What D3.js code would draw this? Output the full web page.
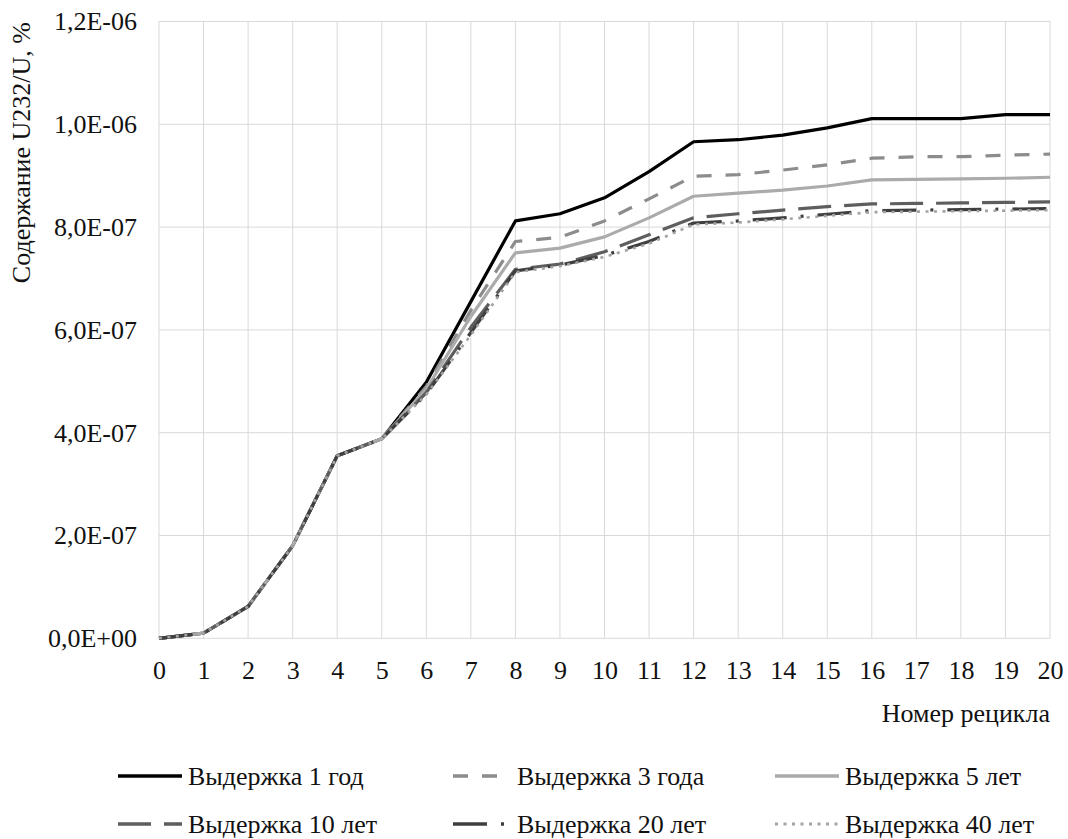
<!DOCTYPE html>
<html>
<head>
<meta charset="utf-8">
<script src="https://cdn.jsdelivr.net/npm/d3@7"></script>
</head>
<body style="margin:0; background:#fff">
<div id="chart"></div>
<script>
// data
const cycles = [0, 1, 2, 3, 4, 5, 6, 7, 8, 9, 10, 11, 12, 13, 14, 15, 16, 17, 18, 19, 20];

const y1 = [0, 1.0e-8, 6.2e-8, 1.8e-7, 3.55e-7, 3.88e-7, 4.98e-7, 6.55e-7, 8.12e-7, 8.26e-7, 8.57e-7,
  9.08e-7, 9.66e-7, 9.70e-7, 9.79e-7, 9.93e-7, 1.011e-6, 1.011e-6, 1.011e-6, 1.019e-6, 1.019e-6];
const y3 = [0, 1.0e-8, 6.2e-8, 1.8e-7, 3.55e-7, 3.88e-7, 4.90e-7, 6.38e-7, 7.72e-7, 7.80e-7, 8.12e-7,
  8.55e-7, 8.99e-7, 9.02e-7, 9.11e-7, 9.21e-7, 9.34e-7, 9.37e-7, 9.37e-7, 9.40e-7, 9.42e-7];
const y5 = [0, 1.0e-8, 6.2e-8, 1.8e-7, 3.55e-7, 3.88e-7, 4.85e-7, 6.26e-7, 7.50e-7, 7.59e-7, 7.81e-7,
  8.18e-7, 8.60e-7, 8.66e-7, 8.72e-7, 8.80e-7, 8.92e-7, 8.93e-7, 8.94e-7, 8.95e-7, 8.97e-7];
const y10 = [0, 1.0e-8, 6.2e-8, 1.8e-7, 3.55e-7, 3.88e-7, 4.78e-7, 6.05e-7, 7.18e-7, 7.28e-7, 7.52e-7,
  7.85e-7, 8.18e-7, 8.26e-7, 8.33e-7, 8.40e-7, 8.45e-7, 8.46e-7, 8.47e-7, 8.48e-7, 8.49e-7];
const y20 = [0, 1.0e-8, 6.2e-8, 1.8e-7, 3.55e-7, 3.88e-7, 4.75e-7, 5.95e-7, 7.15e-7, 7.26e-7, 7.45e-7,
  7.72e-7, 8.08e-7, 8.12e-7, 8.18e-7, 8.25e-7, 8.32e-7, 8.33e-7, 8.34e-7, 8.35e-7, 8.36e-7];
const y40 = [0, 1.0e-8, 6.2e-8, 1.8e-7, 3.55e-7, 3.88e-7, 4.74e-7, 5.90e-7, 7.12e-7, 7.24e-7, 7.42e-7,
  7.68e-7, 8.05e-7, 8.09e-7, 8.15e-7, 8.22e-7, 8.29e-7, 8.30e-7, 8.31e-7, 8.32e-7, 8.33e-7];

const seriesNames = ["Выдержка 1 год", "Выдержка 3 года", "Выдержка 5 лет",
  "Выдержка 10 лет", "Выдержка 20 лет", "Выдержка 40 лет"];

const yTicks = [0, 2e-7, 4e-7, 6e-7, 8e-7, 1e-6, 1.2e-6];
const yTickLabels = ["0,0E+00", "2,0E-07", "4,0E-07", "6,0E-07", "8,0E-07", "1,0E-06", "1,2E-06"];

const yTitle = "Содержание U232/U, %";
const xTitle = "Номер рецикла";

// styles for each series
const styles = [
  {color: "#000000", width: 3.2, dash: null},
  {color: "#8c8c8c", width: 3.2, dash: "15,14"},
  {color: "#ababab", width: 3.2, dash: null},
  {color: "#5e5e5e", width: 3.2, dash: "33,13"},
  {color: "#3f3f3f", width: 3.2, dash: "34,14,3,14"},
  {color: "#a3a3a3", width: 2.6, dash: "3,5.5"}
];

const allValues = [y1, y3, y5, y10, y20, y40];

// initialization
const W = 1068, H = 839;
const margin = ({top: 21.5, right: 18, bottom: 200.7, left: 159});
const width = W - margin.left - margin.right, height = H - margin.top - margin.bottom;
const FONT = "'Liberation Serif'";

const svg = d3.select("#chart")
  .append("svg")
  .attr("width", W)
  .attr("height", H);

const g = svg.append("g")
  .attr("transform", `translate(${margin.left}, ${margin.top})`);

const xScale = d3.scaleLinear()
  .domain([0, 20])
  .range([0, width]);

const yScale = d3.scaleLinear()
  .domain([0, 1.2e-6])
  .range([height, 0]);

// grid
g.append("g")
  .selectAll("line.hgrid")
  .data(yTicks)
  .join("line")
  .attr("class", "hgrid")
  .attr("x1", 0).attr("x2", width)
  .attr("y1", d => yScale(d)).attr("y2", d => yScale(d))
  .attr("stroke", "#d9d9d9")
  .attr("stroke-width", 1);

g.append("g")
  .selectAll("line.vgrid")
  .data(cycles)
  .join("line")
  .attr("class", "vgrid")
  .attr("y1", 0).attr("y2", height)
  .attr("x1", d => xScale(d)).attr("x2", d => xScale(d))
  .attr("stroke", "#d9d9d9")
  .attr("stroke-width", 1);

// axes
const xAxis = d3.axisBottom(xScale)
  .tickValues(cycles)
  .tickSize(0)
  .tickPadding(22)
  .tickFormat(d3.format("d"));

const yAxis = d3.axisLeft(yScale)
  .tickValues(yTicks)
  .tickSize(0)
  .tickPadding(22)
  .tickFormat((d, i) => yTickLabels[i]);

g.append("g")
  .attr("class", "x-axis")
  .attr("transform", `translate(0, ${height})`)
  .call(xAxis)
  .call(s => s.select(".domain").remove())
  .selectAll("text")
  .style("font-family", FONT)
  .style("font-size", "26px")
  .attr("fill", "#111");

g.append("g")
  .attr("class", "y-axis")
  .call(yAxis)
  .call(s => s.select(".domain").remove())
  .selectAll("text")
  .style("font-family", FONT)
  .style("font-size", "26px")
  .attr("fill", "#111");

// lines, drawn in series order so the last series lies on top
const line = d3.line()
  .x((d, i) => xScale(cycles[i]))
  .y(d => yScale(d));

g.selectAll(".series")
  .data(allValues.map((v, i) => ({name: seriesNames[i], values: v, style: styles[i]})))
  .join("path")
  .attr("class", "series")
  .attr("fill", "none")
  .attr("d", d => line(d.values))
  .attr("stroke", d => d.style.color)
  .attr("stroke-width", d => d.style.width)
  .attr("stroke-dasharray", d => d.style.dash)
  .attr("stroke-linejoin", "round");

// titles
svg.append("text")
  .attr("transform", `translate(30, 22) rotate(-90)`)
  .attr("text-anchor", "end")
  .style("font-family", FONT)
  .style("font-size", "26px")
  .attr("fill", "#111")
  .text(yTitle);

svg.append("text")
  .attr("x", margin.left + width)
  .attr("y", 722)
  .attr("text-anchor", "end")
  .style("font-family", FONT)
  .style("font-size", "26px")
  .attr("fill", "#111")
  .text(xTitle);

// legend
const colX = [118, 453, 775];
const textX = [188, 517, 845];
const rowY = [776, 824];
const legend = svg.append("g").attr("class", "legend");

seriesNames.forEach((name, i) => {
  const c = i % 3, cy = rowY[Math.floor(i / 3)];
  const st = styles[i];
  legend.append("line")
    .attr("x1", colX[c]).attr("x2", textX[c] - 6)
    .attr("y1", cy).attr("y2", cy)
    .attr("stroke", st.color)
    .attr("stroke-width", st.width + 0.4)
    .attr("stroke-dasharray", st.dash);
  legend.append("text")
    .attr("x", textX[c])
    .attr("y", cy)
    .attr("dy", "0.33em")
    .style("font-family", FONT)
    .style("font-size", "26px")
    .attr("fill", "#111")
    .text(name);
});
</script>
</body>
</html>
